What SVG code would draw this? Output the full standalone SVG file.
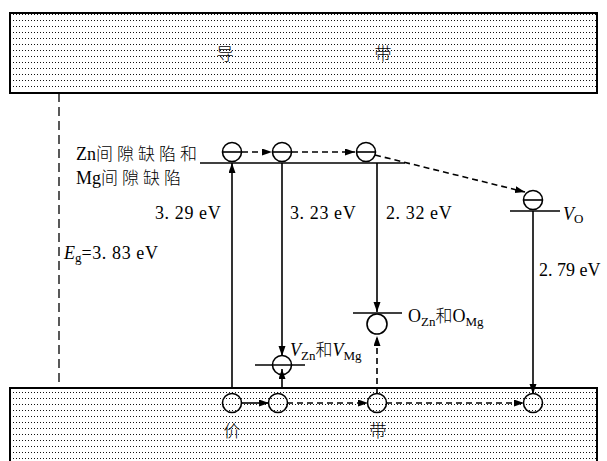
<svg xmlns="http://www.w3.org/2000/svg" width="607" height="461" viewBox="0 0 607 461">
<defs>
<pattern id="dots" width="3" height="6" patternUnits="userSpaceOnUse"><rect x="1" y="2" width="1" height="1" fill="#111"/></pattern>
<marker id="ah" markerWidth="10" markerHeight="8" refX="10" refY="3.5" orient="auto" markerUnits="userSpaceOnUse"><path d="M0,0 L10,3.5 L0,7 z" fill="#000"/></marker>
</defs>
<style>
.band{fill:url(#dots);stroke:#000;stroke-width:2}
.lvl{stroke:#000;stroke-width:1.3;fill:none}
.c{fill:#fff;stroke:#000;stroke-width:1.6}
.cb{fill:none;stroke:#000;stroke-width:1.6}
.ln{stroke:#000;stroke-width:1.6;fill:none}
.sol{stroke:#000;stroke-width:1.6;fill:none;marker-end:url(#ah)}
.dsh{stroke:#000;stroke-width:1.6;fill:none;stroke-dasharray:6,4;marker-end:url(#ah)}
.t{font-family:'Liberation Serif','Times New Roman','DejaVu Serif',serif;font-size:18px;fill:#000}
.ev{letter-spacing:0.6px}
.cjk{font-family:'Noto Sans CJK SC',sans-serif;font-size:17px;font-weight:300}
.sp{letter-spacing:4px}
.it{font-style:italic}
.sub{font-size:13px}
</style>
<g id="conduction-band">
<rect class="band" x="10" y="13" width="587" height="80"/>
<text class="t cjk" x="225" y="60" text-anchor="middle">导</text>
<text class="t cjk" x="383" y="60" text-anchor="middle">带</text>
</g>
<g id="valence-band">
<rect class="band" x="10" y="388" width="587" height="80"/>
<text class="t cjk" x="232" y="437" text-anchor="middle">价</text>
<text class="t cjk" x="378" y="437" text-anchor="middle">带</text>
</g>
<g id="connectors">
<line x1="59" y1="93" x2="59" y2="388" stroke="#000" stroke-width="1.3" stroke-dasharray="9,5"/>
<line class="sol" x1="232" y1="388" x2="232" y2="163"/>
<line class="sol" x1="282" y1="163" x2="282" y2="356"/>
<line class="sol" x1="377" y1="163" x2="377" y2="312"/>
<line class="sol" x1="533" y1="211" x2="533" y2="394"/>
<line class="dsh" x1="242" y1="152" x2="272" y2="152"/>
<line class="dsh" x1="292" y1="152" x2="355" y2="152"/>
<line class="dsh" x1="375" y1="155" x2="525" y2="192"/>
<line class="sol" x1="241" y1="403" x2="269" y2="403"/>
<line class="dsh" x1="287" y1="403" x2="368" y2="403"/>
<line class="dsh" x1="386" y1="403" x2="524" y2="403"/>
<line class="sol" x1="282" y1="388" x2="282" y2="369"/>
<line class="dsh" x1="377" y1="394" x2="377" y2="336"/>
</g>
<g id="zn-mg-interstitial">
<line class="lvl" x1="200" y1="163" x2="405" y2="163"/>
<circle class="c" cx="232" cy="152" r="9.5"/><line class="ln" x1="222.5" y1="152" x2="241.5" y2="152"/>
<circle class="c" cx="282" cy="152" r="9.5"/><line class="ln" x1="272.5" y1="152" x2="291.5" y2="152"/>
<circle class="c" cx="366" cy="152" r="9.5"/><line class="ln" x1="356.5" y1="152" x2="375.5" y2="152"/>
<text class="t" x="76" y="160">Zn<tspan class="cjk sp">间隙缺陷和</tspan></text>
<text class="t" x="76" y="184">Mg<tspan class="cjk sp">间隙缺陷</tspan></text>
</g>
<g id="vo">
<line class="lvl" x1="510" y1="211" x2="560" y2="211"/>
<circle class="c" cx="533" cy="200" r="9.5"/><line class="ln" x1="523.5" y1="200" x2="542.5" y2="200"/>
<text class="t" x="563" y="220"><tspan class="it">V</tspan><tspan class="sub" dy="3">O</tspan></text>
</g>
<g id="ozn-omg">
<line class="lvl" x1="353" y1="313" x2="402" y2="313"/>
<circle class="c" cx="377" cy="324" r="10"/>
<text class="t" x="408" y="322">O<tspan class="sub" dy="4">Zn</tspan><tspan class="cjk" dy="-4">和</tspan>O<tspan class="sub" dy="4">Mg</tspan></text>
</g>
<g id="vzn-vmg">
<line class="lvl" x1="255" y1="365" x2="305" y2="365"/>
<circle class="cb" cx="282" cy="365" r="9.5"/>
<text class="t" x="290" y="356"><tspan class="it">V</tspan><tspan class="sub" dy="4">Zn</tspan><tspan class="cjk" dy="-4">和</tspan><tspan class="it">V</tspan><tspan class="sub" dy="4">Mg</tspan></text>
</g>
<g id="vb-holes">
<circle class="cb" cx="232" cy="403" r="9.5"/>
<circle class="cb" cx="278" cy="403" r="9.5"/>
<circle class="cb" cx="377" cy="403" r="9.5"/>
<circle class="cb" cx="533" cy="403" r="9.5"/>
</g>
<g id="labels">
<text class="t ev" x="155" y="219">3. 29 eV</text>
<text class="t ev" x="290" y="219">3. 23 eV</text>
<text class="t ev" x="386" y="219">2. 32 eV</text>
<text class="t" x="539" y="276">2. 79 eV</text>
<text class="t" x="64" y="259"><tspan class="it">E</tspan><tspan class="sub" dy="3">g</tspan><tspan class="ev" dy="-3">=3. 83 eV</tspan></text>
</g>
</svg>
